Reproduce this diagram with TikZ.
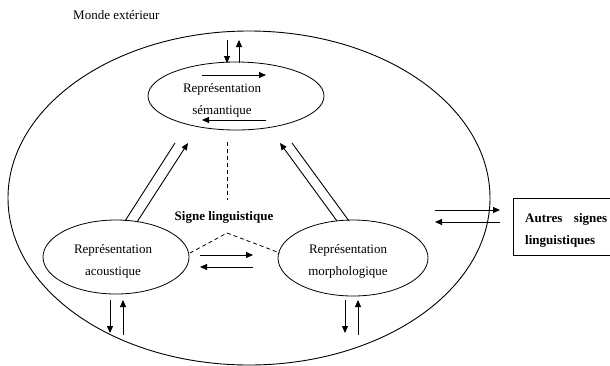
\documentclass[tikz,border=0pt]{standalone}
\usepackage{fontspec}
\setmainfont{Liberation Serif}
\usetikzlibrary{shapes.geometric,arrows.meta}
\begin{document}
\begin{tikzpicture}[x=1pt,y=-1pt,
  oval/.style={draw,ellipse,line width=0.8pt,inner sep=0pt},
  ovaltext/.style={align=center,inner sep=0pt,font=\fontsize{13}{22}\selectfont},
  arr/.style={line width=0.9pt,-{Triangle[length=7pt,width=6pt]}},
  ln/.style={line width=0.9pt},
  dsh/.style={line width=0.8pt,dash pattern=on 4pt off 3pt},
  lbl/.style={font=\fontsize{13}{16}\selectfont,inner sep=0pt}]
\useasboundingbox (0,0) rectangle (610,365);
\node[draw,ellipse,line width=0.9pt,minimum width=482pt,minimum height=334pt,inner sep=0pt] (world) at (249,198) {};
\node[oval,minimum width=176pt,minimum height=68pt] (sem) at (236,96) {};
\node[ovaltext] (semtxt) at (222,100) {Représentation\\sémantique};
\node[oval,minimum width=146pt,minimum height=74pt] (aco) at (116,257) {};
\node[ovaltext] (acotxt) at (113,261) {Représentation\\acoustique};
\node[oval,minimum width=150pt,minimum height=76pt] (mor) at (353,258) {};
\node[ovaltext] (mortxt) at (348,261) {Représentation\\morphologique};
\node[lbl,anchor=west] (monde) at (73,15) {Monde extérieur};
\node[lbl,font=\bfseries\fontsize{13}{16}\selectfont] (signe) at (224,217) {Signe linguistique};
\node[draw,line width=0.8pt,anchor=north west,minimum width=110pt,minimum height=57pt,inner sep=0pt] (autres) at (513,198) {};
\node[anchor=west,inner sep=0pt,font=\bfseries\fontsize{13}{22}\selectfont] (autrestxt) at (525,230) {\parbox{82pt}{Autres\hfill signes\\linguistiques}};
% top vertical arrows
\coordinate (t1) at (227,40); \coordinate (t2) at (227,63);
\coordinate (t3) at (239,63); \coordinate (t4) at (239,40);
\draw[arr] (t1) -- (t2);
\draw[arr] (t3) -- (t4);
% inside semantic
\coordinate (i1) at (202,75); \coordinate (i2) at (266,75);
\coordinate (i3) at (266,120); \coordinate (i4) at (202,120);
\draw[arr] (i1) -- (i2);
\draw[arr] (i3) -- (i4);
% left double line
\coordinate (l1) at (125,221); \coordinate (l2) at (175,143);
\coordinate (l3) at (137,222); \coordinate (l4) at (188,143);
\draw[ln] (l1) -- (l2);
\draw[arr] (l3) -- (l4);
% right double line
\coordinate (r1) at (337,221); \coordinate (r2) at (280,143);
\coordinate (r3) at (349,221); \coordinate (r4) at (292,143);
\draw[arr] (r1) -- (r2);
\draw[ln] (r3) -- (r4);
% dashed
\coordinate (d1) at (227,142); \coordinate (d2) at (227,200);
\draw[dsh] (d1) -- (d2);
\coordinate (v1) at (190,253); \coordinate (v2) at (227,233); \coordinate (v3) at (280,253);
\draw[dsh] (v1) -- (v2) -- (v3);
% between aco and mor
\coordinate (h1) at (200,255); \coordinate (h2) at (253,255);
\coordinate (h3) at (253,267); \coordinate (h4) at (200,267);
\draw[arr] (h1) -- (h2);
\draw[arr] (h3) -- (h4);
% under aco
\coordinate (a1) at (110,300); \coordinate (a2) at (110,333);
\coordinate (a3) at (123,335); \coordinate (a4) at (123,300);
\draw[arr] (a1) -- (a2);
\draw[arr] (a3) -- (a4);
% under mor
\coordinate (m1) at (345,300); \coordinate (m2) at (345,333);
\coordinate (m3) at (358,335); \coordinate (m4) at (358,300);
\draw[arr] (m1) -- (m2);
\draw[arr] (m3) -- (m4);
% right arrows
\coordinate (e1) at (435,210); \coordinate (e2) at (500,210);
\coordinate (e3) at (500,222); \coordinate (e4) at (435,222);
\draw[arr] (e1) -- (e2);
\draw[arr] (e3) -- (e4);
\end{tikzpicture}
\end{document}
